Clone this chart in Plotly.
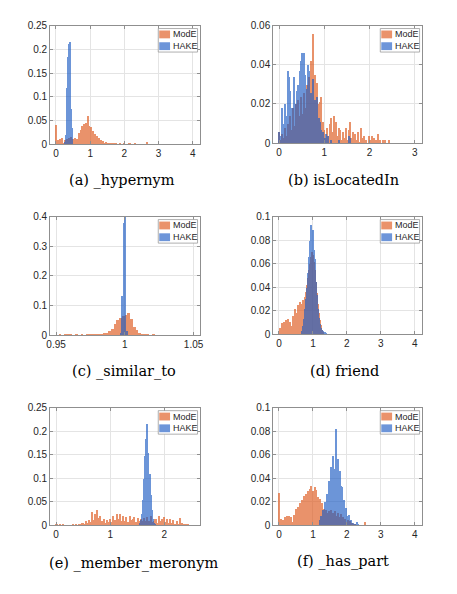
import plotly.graph_objects as go

# histogram heights (probability per bin)
# panel a: _hypernym
mode_a_x0, mode_a_dx = 0.015, 0.03
mode_a = [0.042, 0.005, 0.009, 0.003, 0.011, 0.005, 0.013, 0.004, 0.010, 0.005,
          0.012, 0.006, 0.014, 0.008, 0.016, 0.006, 0.012, 0.007, 0.014, 0.005,
          0.011, 0.010, 0.024, 0.012, 0.030, 0.040, 0.022, 0.044, 0.030, 0.046,
          0.035, 0.061, 0.040, 0.028, 0.036, 0.018, 0.028, 0.014, 0.022, 0.010,
          0.018, 0.008, 0.014, 0.005, 0.009, 0.004, 0.007, 0.002, 0.005, 0.001,
          0.003, 0.004, 0.001, 0.002, 0, 0.002, 0, 0.003, 0.004, 0,
          0.001, 0, 0.002, 0, 0, 0, 0.004, 0, 0.001, 0,
          0, 0.003, 0.002, 0, 0, 0, 0, 0.004, 0, 0,
          0, 0, 0, 0, 0, 0, 0, 0, 0.005, 0]
hake_a_x0, hake_a_dx = 0.27, 0.02
hake_a = [0.005, 0.02, 0.07, 0.12, 0.185, 0.205, 0.213, 0.217, 0.15, 0.075, 0.035, 0.01]

# panel b: isLocatedIn
mode_b_x0, mode_b_dx = 0.015, 0.03
mode_b = [0.006, 0.002, 0.005, 0.003, 0.008, 0.004, 0.010, 0.005, 0.014, 0.007,
          0.018, 0.009, 0.020, 0.012, 0.022, 0.014, 0.024, 0.015, 0.026, 0.018,
          0.030, 0.020, 0.034, 0.042, 0.028, 0.056, 0.035, 0.024, 0.031, 0.020,
          0.021, 0.024, 0.011, 0.007, 0.003, 0.008, 0.004, 0.010, 0.013, 0.006,
          0.014, 0.009, 0.011, 0.004, 0.008, 0.007, 0.002, 0.006, 0.003, 0.008,
          0.002, 0.007, 0.011, 0.003, 0.006, 0.001, 0.005, 0.002, 0.006, 0.001,
          0.008, 0.003, 0.004, 0.001, 0.002, 0, 0.004, 0.002, 0.004, 0,
          0.003, 0.002, 0, 0.005, 0.002, 0, 0.002, 0, 0.002, 0,
          0, 0.002]
hake_b_x0, hake_b_dx = 0.015, 0.03
hake_b = [0.006, 0.004, 0.018, 0.010, 0.020, 0.014, 0.037, 0.034, 0.027, 0.018,
          0.013, 0.034, 0.020, 0.027, 0.030, 0.037, 0.042, 0.046, 0.046, 0.035,
          0.028, 0.040, 0.037, 0.026, 0.024, 0.033, 0.022, 0.018, 0.024, 0.013,
          0.011, 0.007, 0.006, 0.003, 0.005, 0.002, 0.004, 0, 0.002, 0,
          0, 0, 0, 0, 0.002, 0, 0, 0, 0, 0,
          0, 0.004, 0.003]

# panel c: _similar_to
mode_c_x0, mode_c_dx = 0.951, 0.002
mode_c = [0, 0.002, 0, 0.002, 0.006, 0.002, 0, 0.002, 0, 0.002,
          0, 0.004, 0.002, 0.002, 0.005, 0.002, 0.004, 0.007, 0.009, 0.014,
          0.022, 0.040, 0.052, 0.060, 0.066, 0.070, 0.077, 0.055, 0.030, 0.018,
          0.009, 0.006, 0.003, 0.002, 0, 0.002]
hake_c_x0, hake_c_dx = 0.9975, 0.001
hake_c = [0.01, 0.135, 0.38, 0.46, 0.015]

# panel d: friend
mode_d_x0, mode_d_dx = 0.015, 0.03
mode_d = [0.002, 0.006, 0.003, 0.010, 0.005, 0.011, 0.008, 0.012, 0.005, 0.013,
          0.008, 0.011, 0.007, 0.016, 0.012, 0.022, 0.013, 0.018, 0.025, 0.016,
          0.028, 0.019, 0.026, 0.029, 0.024, 0.032, 0.036, 0.042, 0.048, 0.055,
          0.060, 0.066, 0.070, 0.068, 0.062, 0.055, 0.045, 0.035, 0.026, 0.018,
          0.012, 0.008, 0.004, 0.002]
hake_d_x0, hake_d_dx = 0.675, 0.03
hake_d = [0.003, 0.007, 0.013, 0.022, 0.030, 0.040, 0.052, 0.066, 0.080, 0.093,
          0.085, 0.089, 0.072, 0.064, 0.045, 0.034, 0.022, 0.014, 0.009, 0.006,
          0.004, 0.003, 0.002, 0.002, 0.001]

# panel e: _member_meronym
mode_e_x0, mode_e_dx = 0.015, 0.03
mode_e = [0.002, 0.001, 0.002, 0.001, 0.002, 0, 0, 0.001, 0, 0.001,
          0.002, 0.001, 0.003, 0.001, 0.004, 0.002, 0.006, 0.003, 0.009, 0.005,
          0.012, 0.008, 0.029, 0.012, 0.024, 0.034, 0.016, 0.021, 0.010, 0.013,
          0.006, 0.012, 0.007, 0.014, 0.008, 0.020, 0.012, 0.025, 0.013, 0.024,
          0.010, 0.020, 0.009, 0.019, 0.008, 0.020, 0.011, 0.015, 0.019, 0.008,
          0.016, 0.010, 0.015, 0.009, 0.016, 0.010, 0.018, 0.010, 0.020, 0.008,
          0.010, 0.014, 0.006, 0.021, 0.010, 0.013, 0.018, 0.007, 0.015, 0.006,
          0.013, 0.005, 0.011, 0.004, 0.010, 0.004, 0.016, 0.006, 0.004, 0.002,
          0.002, 0.003, 0.001, 0.001]
hake_e_x0, hake_e_dx = 1.55, 0.02
hake_e = [0.005, 0.012, 0.025, 0.055, 0.10, 0.148, 0.185, 0.217, 0.155, 0.11,
          0.065, 0.033, 0.015, 0.006, 0.002]

# panel f: _has_part
mode_f_x0, mode_f_dx = 0.015, 0.03
mode_f = [0.028, 0.002, 0.006, 0.001, 0.005, 0.002, 0.007, 0.003, 0.008, 0.003,
          0.008, 0.004, 0.007, 0.003, 0.009, 0.004, 0.014, 0.006, 0.016, 0.008,
          0.019, 0.010, 0.022, 0.012, 0.025, 0.014, 0.027, 0.016, 0.029, 0.018,
          0.031, 0.034, 0.020, 0.029, 0.016, 0.033, 0.030, 0.018, 0.024, 0.014,
          0.023, 0.010, 0.019, 0.008, 0.014, 0.006, 0.013, 0.011, 0.006, 0.012,
          0.008, 0.013, 0.006, 0.011, 0.007, 0.012, 0.008, 0.006, 0.011, 0.007,
          0.005, 0.010, 0.004, 0.007, 0.003, 0.006, 0.002, 0.005, 0.002, 0.004,
          0.001, 0.002, 0.001, 0, 0.001, 0, 0, 0, 0, 0,
          0, 0, 0, 0, 0.003]
hake_f_x0, hake_f_dx = 1.215, 0.03
hake_f = [0.005, 0.008, 0.006, 0.013, 0.010, 0.020, 0.016, 0.027, 0.022, 0.038,
          0.030, 0.050, 0.042, 0.059, 0.045, 0.048, 0.082, 0.052, 0.057, 0.044,
          0.046, 0.034, 0.033, 0.022, 0.022, 0.014, 0.015, 0.008, 0.009, 0.004,
          0.005, 0.002, 0.002, 0.001, 0.001, 0, 0.003, 0.001]

captions = ["(a) _hypernym", "(b) isLocatedIn", "(c) _similar_to",
            "(d) friend", "(e) _member_meronym", "(f) _has_part"]
x_ticks = [[0, 1, 2, 3, 4], [0, 1, 2, 3], [0.95, 1, 1.05],
           [0, 1, 2, 3, 4], [0, 1, 2], [0, 1, 2, 3, 4]]
x_ticktext = [["0", "1", "2", "3", "4"], ["0", "1", "2", "3"], ["0.95", "1", "1.05"],
              ["0", "1", "2", "3", "4"], ["0", "1", "2"], ["0", "1", "2", "3", "4"]]
y_ticks = [[0, 0.05, 0.1, 0.15, 0.2, 0.25], [0, 0.02, 0.04, 0.06], [0, 0.1, 0.2, 0.3, 0.4],
           [0, 0.02, 0.04, 0.06, 0.08, 0.1], [0, 0.05, 0.1, 0.15, 0.2, 0.25],
           [0, 0.02, 0.04, 0.06, 0.08, 0.1]]
y_ticktext = [["0", "0.05", "0.1", "0.15", "0.2", "0.25"], ["0", "0.02", "0.04", "0.06"],
              ["0", "0.1", "0.2", "0.3", "0.4"], ["0", "0.02", "0.04", "0.06", "0.08", "0.1"],
              ["0", "0.05", "0.1", "0.15", "0.2", "0.25"], ["0", "0.02", "0.04", "0.06", "0.08", "0.1"]]

mode_series = [(mode_a_x0, mode_a_dx, mode_a), (mode_b_x0, mode_b_dx, mode_b),
               (mode_c_x0, mode_c_dx, mode_c), (mode_d_x0, mode_d_dx, mode_d),
               (mode_e_x0, mode_e_dx, mode_e), (mode_f_x0, mode_f_dx, mode_f)]
hake_series = [(hake_a_x0, hake_a_dx, hake_a), (hake_b_x0, hake_b_dx, hake_b),
               (hake_c_x0, hake_c_dx, hake_c), (hake_d_x0, hake_d_dx, hake_d),
               (hake_e_x0, hake_e_dx, hake_e), (hake_f_x0, hake_f_dx, hake_f)]

# layout stuff (pixels in the 457x594 page)
W, H = 457, 594
boxes = [(47, 199, 20, 141), (274, 425, 20, 140), (47, 199, 215, 336),
         (274, 425, 215, 335), (47, 199, 410, 530), (274, 425, 410, 530)]
x_ranges = [[-0.17, 4.2], [-0.13, 3.15], [0.9457, 1.0543], [-0.17, 4.2], [-0.11, 2.65], [-0.17, 4.2]]
y_ranges = [[0, 0.25], [0, 0.06], [0, 0.4], [0, 0.1], [0, 0.25], [0, 0.1]]
cap_pos = [(120, 178), (346, 178), (122, 373), (347, 373), (132, 569), (345, 567)]

ORANGE = "rgb(222,88,28)"
BLUE = "rgb(30,92,196)"
ALPHA = 0.65
SERIF = "DejaVu Serif"   # the only serif face the browser picked up
SANS = "Liberation Sans, Arial, Helvetica, sans-serif"

def px(x):
    return x / W

def py(y):
    return 1 - y / H

fig = go.Figure()
layout = dict(width=W, height=H, margin=dict(l=0, r=0, t=0, b=0),
              paper_bgcolor="white", plot_bgcolor="white", barmode="overlay",
              bargap=0, showlegend=False, shapes=[], annotations=[])

axis_style = dict(showline=True, linecolor="#8f8f8f", linewidth=1, mirror="ticks",
                  ticks="inside", ticklen=3, tickcolor="#8f8f8f", showgrid=True,
                  gridcolor="#e4e4e4", gridwidth=1, zeroline=False,
                  tickfont=dict(family=SANS, size=10, color="#262626"))

for k in range(6):
    s = "" if k == 0 else str(k + 1)
    l, r, t, b = boxes[k]
    for name, (x0, dx, vals), col in [("ModE", mode_series[k], ORANGE), ("HAKE", hake_series[k], BLUE)]:
        fig.add_trace(go.Bar(x0=x0, dx=dx, y=vals, width=dx, name=name,
                             marker=dict(color=col, line=dict(width=0)), opacity=ALPHA,
                             xaxis="x" + s, yaxis="y" + s))
    layout["xaxis" + s] = dict(axis_style, domain=[px(l), px(r)], range=x_ranges[k],
                               tickvals=x_ticks[k], ticktext=x_ticktext[k], anchor="y" + s)
    layout["yaxis" + s] = dict(axis_style, domain=[py(b), py(t)], range=y_ranges[k],
                               tickvals=y_ticks[k], ticktext=y_ticktext[k], anchor="x" + s)

    # legend box, drawn by hand so it stays as compact as the original
    lx0, lx1, ly0, ly1 = r - 42, r - 2, t + 3, t + 27
    layout["shapes"].append(dict(type="rect", xref="paper", yref="paper",
                                 x0=px(lx0), x1=px(lx1), y0=py(ly1), y1=py(ly0),
                                 line=dict(color="#9a9a9a", width=0.8), fillcolor="white"))
    for j, (name, col) in enumerate([("ModE", ORANGE), ("HAKE", BLUE)]):
        top = ly0 + 2 + 12 * j
        layout["shapes"].append(dict(type="rect", xref="paper", yref="paper",
                                     x0=px(lx0 + 1), x1=px(lx0 + 12), y0=py(top + 8), y1=py(top),
                                     line=dict(width=0), fillcolor=col, opacity=ALPHA))
        layout["annotations"].append(dict(text=name, xref="paper", yref="paper",
                                          x=px(lx0 + 12.5), y=py(top + 4), xanchor="left",
                                          yanchor="middle", showarrow=False,
                                          font=dict(family=SANS, size=9, color="#262626")))

    cx, cy = cap_pos[k]
    layout["annotations"].append(dict(text=captions[k], xref="paper", yref="paper",
                                      x=px(cx), y=py(cy), xanchor="center", yanchor="middle",
                                      showarrow=False,
                                      font=dict(family=SERIF, size=14.5, color="black")))

fig.update_layout(layout)
# the page body has the browser's default 8px margin, drop it so the figure sits at 0,0
fig.write_html("out.html", config={"displayModeBar": False},
               post_script="document.body.style.margin='0px';")
